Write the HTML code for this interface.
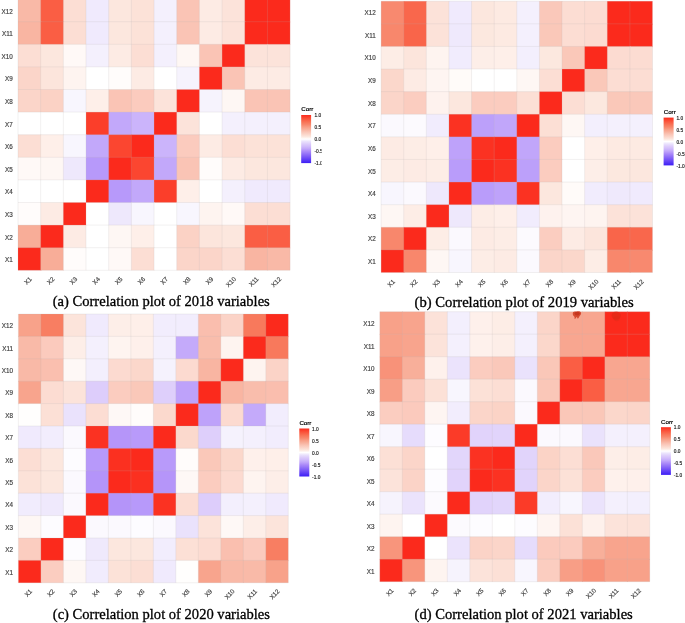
<!DOCTYPE html>
<html lang="en"><head><meta charset="utf-8"><title>Correlation plots</title>
<style>
html,body{margin:0;padding:0;background:#fff;}
body{width:685px;height:623px;overflow:hidden;}
svg{display:block;filter:blur(0.35px);}
.ax{font-family:"Liberation Sans",Arial,sans-serif;font-size:6.3px;fill:#3d3d3d;stroke:#3d3d3d;stroke-width:0.16px;}
.lt{font-family:"Liberation Sans",Arial,sans-serif;font-size:4.8px;fill:#222;stroke:#222;stroke-width:0.16px;}
.lh{font-family:"Liberation Sans",Arial,sans-serif;font-size:6.2px;fill:#000;stroke:#000;stroke-width:0.2px;}
.cap{font-family:"Liberation Serif","Times New Roman",serif;font-size:14.6px;fill:#000;stroke:#000;stroke-width:0.3px;}
</style></head><body>
<svg width="685" height="623" viewBox="0 0 685 623">
<defs>
<linearGradient id="lg" x1="0" y1="0" x2="0" y2="1">
<stop offset="0.000" stop-color="#fb2a1c"/><stop offset="0.050" stop-color="#fb4630"/><stop offset="0.100" stop-color="#fa5e44"/><stop offset="0.150" stop-color="#f87558"/><stop offset="0.200" stop-color="#f8876c"/><stop offset="0.250" stop-color="#f89e86"/><stop offset="0.300" stop-color="#f8b19d"/><stop offset="0.350" stop-color="#fac4b5"/><stop offset="0.400" stop-color="#fbd5c9"/><stop offset="0.450" stop-color="#fce7de"/><stop offset="0.500" stop-color="#ffffff"/><stop offset="0.550" stop-color="#eae2fc"/><stop offset="0.600" stop-color="#ddcdfb"/><stop offset="0.650" stop-color="#d1bcfb"/><stop offset="0.700" stop-color="#c2a8fa"/><stop offset="0.750" stop-color="#ae8df9"/><stop offset="0.800" stop-color="#9877f8"/><stop offset="0.875" stop-color="#7855f7"/><stop offset="0.950" stop-color="#5434f6"/><stop offset="1.000" stop-color="#3c1ef5"/></linearGradient>
<clipPath id="cl0"><rect x="0" y="0" width="321.6" height="623"/></clipPath>
<clipPath id="cl1"><rect x="0" y="0" width="685.0" height="623"/></clipPath>
<clipPath id="cl2"><rect x="0" y="0" width="685.0" height="623"/></clipPath>
<clipPath id="cl3"><rect x="0" y="0" width="685.0" height="623"/></clipPath>
</defs>
<rect width="685" height="623" fill="#fff"/>
<g>
<rect x="18.00" y="-0.90" width="23.38" height="23.30" fill="#f9b9a7"/><rect x="40.67" y="-0.90" width="23.38" height="23.30" fill="#fa5e44"/><rect x="63.35" y="-0.90" width="23.38" height="23.30" fill="#fcded4"/><rect x="86.03" y="-0.90" width="23.38" height="23.30" fill="#f0eafd"/><rect x="108.70" y="-0.90" width="23.38" height="23.30" fill="#fce7de"/><rect x="131.38" y="-0.90" width="23.38" height="23.30" fill="#fce2d8"/><rect x="154.05" y="-0.90" width="23.38" height="23.30" fill="#f4f0fd"/><rect x="176.72" y="-0.90" width="23.38" height="23.30" fill="#fac4b5"/><rect x="199.40" y="-0.90" width="23.38" height="23.30" fill="#fdebe4"/><rect x="222.08" y="-0.90" width="23.38" height="23.30" fill="#fce3da"/><rect x="244.75" y="-0.90" width="23.38" height="23.30" fill="#fb2a1c"/><rect x="267.43" y="-0.90" width="22.68" height="23.30" fill="#fb2a1c"/>
<rect x="18.00" y="21.70" width="23.38" height="23.30" fill="#f9b5a2"/><rect x="40.67" y="21.70" width="23.38" height="23.30" fill="#fa5e44"/><rect x="63.35" y="21.70" width="23.38" height="23.30" fill="#fcded4"/><rect x="86.03" y="21.70" width="23.38" height="23.30" fill="#f0eafd"/><rect x="108.70" y="21.70" width="23.38" height="23.30" fill="#fce7de"/><rect x="131.38" y="21.70" width="23.38" height="23.30" fill="#fce2d8"/><rect x="154.05" y="21.70" width="23.38" height="23.30" fill="#f4f0fd"/><rect x="176.72" y="21.70" width="23.38" height="23.30" fill="#fac4b5"/><rect x="199.40" y="21.70" width="23.38" height="23.30" fill="#fdebe4"/><rect x="222.08" y="21.70" width="23.38" height="23.30" fill="#fce3da"/><rect x="244.75" y="21.70" width="23.38" height="23.30" fill="#fb2a1c"/><rect x="267.43" y="21.70" width="22.68" height="23.30" fill="#fb2a1c"/>
<rect x="18.00" y="44.30" width="23.38" height="23.30" fill="#fcded4"/><rect x="40.67" y="44.30" width="23.38" height="23.30" fill="#fce7de"/><rect x="63.35" y="44.30" width="23.38" height="23.30" fill="#fff9f7"/><rect x="86.03" y="44.30" width="23.38" height="23.30" fill="#f4f0fd"/><rect x="108.70" y="44.30" width="23.38" height="23.30" fill="#fdebe4"/><rect x="131.38" y="44.30" width="23.38" height="23.30" fill="#fcded4"/><rect x="154.05" y="44.30" width="23.38" height="23.30" fill="#f4f0fd"/><rect x="176.72" y="44.30" width="23.38" height="23.30" fill="#fef7f4"/><rect x="199.40" y="44.30" width="23.38" height="23.30" fill="#fac4b5"/><rect x="222.08" y="44.30" width="23.38" height="23.30" fill="#fb2a1c"/><rect x="244.75" y="44.30" width="23.38" height="23.30" fill="#fce3da"/><rect x="267.43" y="44.30" width="22.68" height="23.30" fill="#fce3da"/>
<rect x="18.00" y="66.90" width="23.38" height="23.30" fill="#fbd5c9"/><rect x="40.67" y="66.90" width="23.38" height="23.30" fill="#fce5dc"/><rect x="63.35" y="66.90" width="23.38" height="23.30" fill="#fef4f0"/><rect x="86.03" y="66.90" width="23.38" height="23.30" fill="#ffffff"/><rect x="108.70" y="66.90" width="23.38" height="23.30" fill="#fffcfb"/><rect x="131.38" y="66.90" width="23.38" height="23.30" fill="#fdebe4"/><rect x="154.05" y="66.90" width="23.38" height="23.30" fill="#ffffff"/><rect x="176.72" y="66.90" width="23.38" height="23.30" fill="#f6f3fd"/><rect x="199.40" y="66.90" width="23.38" height="23.30" fill="#fb2a1c"/><rect x="222.08" y="66.90" width="23.38" height="23.30" fill="#fac4b5"/><rect x="244.75" y="66.90" width="23.38" height="23.30" fill="#fdebe4"/><rect x="267.43" y="66.90" width="22.68" height="23.30" fill="#fdebe4"/>
<rect x="18.00" y="89.50" width="23.38" height="23.30" fill="#fbd5c9"/><rect x="40.67" y="89.50" width="23.38" height="23.30" fill="#fbd2c5"/><rect x="63.35" y="89.50" width="23.38" height="23.30" fill="#f8f6fe"/><rect x="86.03" y="89.50" width="23.38" height="23.30" fill="#feefe9"/><rect x="108.70" y="89.50" width="23.38" height="23.30" fill="#fac4b5"/><rect x="131.38" y="89.50" width="23.38" height="23.30" fill="#fbcbbe"/><rect x="154.05" y="89.50" width="23.38" height="23.30" fill="#fce3da"/><rect x="176.72" y="89.50" width="23.38" height="23.30" fill="#fb2a1c"/><rect x="199.40" y="89.50" width="23.38" height="23.30" fill="#f6f3fd"/><rect x="222.08" y="89.50" width="23.38" height="23.30" fill="#fef7f4"/><rect x="244.75" y="89.50" width="23.38" height="23.30" fill="#fac4b5"/><rect x="267.43" y="89.50" width="22.68" height="23.30" fill="#fac4b5"/>
<rect x="18.00" y="112.10" width="23.38" height="23.30" fill="#ffffff"/><rect x="40.67" y="112.10" width="23.38" height="23.30" fill="#ffffff"/><rect x="63.35" y="112.10" width="23.38" height="23.30" fill="#ffffff"/><rect x="86.03" y="112.10" width="23.38" height="23.30" fill="#fb3e2a"/><rect x="108.70" y="112.10" width="23.38" height="23.30" fill="#c2a8fa"/><rect x="131.38" y="112.10" width="23.38" height="23.30" fill="#cbb4fb"/><rect x="154.05" y="112.10" width="23.38" height="23.30" fill="#fb2a1c"/><rect x="176.72" y="112.10" width="23.38" height="23.30" fill="#fce3da"/><rect x="199.40" y="112.10" width="23.38" height="23.30" fill="#ffffff"/><rect x="222.08" y="112.10" width="23.38" height="23.30" fill="#f4f0fd"/><rect x="244.75" y="112.10" width="23.38" height="23.30" fill="#f4f0fd"/><rect x="267.43" y="112.10" width="22.68" height="23.30" fill="#f4f0fd"/>
<rect x="18.00" y="134.70" width="23.38" height="23.30" fill="#fcded4"/><rect x="40.67" y="134.70" width="23.38" height="23.30" fill="#feefe9"/><rect x="63.35" y="134.70" width="23.38" height="23.30" fill="#f8f6fe"/><rect x="86.03" y="134.70" width="23.38" height="23.30" fill="#c2a8fa"/><rect x="108.70" y="134.70" width="23.38" height="23.30" fill="#fb4630"/><rect x="131.38" y="134.70" width="23.38" height="23.30" fill="#fb2a1c"/><rect x="154.05" y="134.70" width="23.38" height="23.30" fill="#cbb4fb"/><rect x="176.72" y="134.70" width="23.38" height="23.30" fill="#fbcbbe"/><rect x="199.40" y="134.70" width="23.38" height="23.30" fill="#fdebe4"/><rect x="222.08" y="134.70" width="23.38" height="23.30" fill="#fcded4"/><rect x="244.75" y="134.70" width="23.38" height="23.30" fill="#fce2d8"/><rect x="267.43" y="134.70" width="22.68" height="23.30" fill="#fce2d8"/>
<rect x="18.00" y="157.30" width="23.38" height="23.30" fill="#fff9f7"/><rect x="40.67" y="157.30" width="23.38" height="23.30" fill="#fef7f4"/><rect x="63.35" y="157.30" width="23.38" height="23.30" fill="#eee8fc"/><rect x="86.03" y="157.30" width="23.38" height="23.30" fill="#b799fa"/><rect x="108.70" y="157.30" width="23.38" height="23.30" fill="#fb2a1c"/><rect x="131.38" y="157.30" width="23.38" height="23.30" fill="#fb4630"/><rect x="154.05" y="157.30" width="23.38" height="23.30" fill="#c2a8fa"/><rect x="176.72" y="157.30" width="23.38" height="23.30" fill="#fac4b5"/><rect x="199.40" y="157.30" width="23.38" height="23.30" fill="#fffcfb"/><rect x="222.08" y="157.30" width="23.38" height="23.30" fill="#fdebe4"/><rect x="244.75" y="157.30" width="23.38" height="23.30" fill="#fce7de"/><rect x="267.43" y="157.30" width="22.68" height="23.30" fill="#fce7de"/>
<rect x="18.00" y="179.90" width="23.38" height="23.30" fill="#ffffff"/><rect x="40.67" y="179.90" width="23.38" height="23.30" fill="#ffffff"/><rect x="63.35" y="179.90" width="23.38" height="23.30" fill="#ffffff"/><rect x="86.03" y="179.90" width="23.38" height="23.30" fill="#fb2a1c"/><rect x="108.70" y="179.90" width="23.38" height="23.30" fill="#b799fa"/><rect x="131.38" y="179.90" width="23.38" height="23.30" fill="#c2a8fa"/><rect x="154.05" y="179.90" width="23.38" height="23.30" fill="#fb3e2a"/><rect x="176.72" y="179.90" width="23.38" height="23.30" fill="#feefe9"/><rect x="199.40" y="179.90" width="23.38" height="23.30" fill="#ffffff"/><rect x="222.08" y="179.90" width="23.38" height="23.30" fill="#f4f0fd"/><rect x="244.75" y="179.90" width="23.38" height="23.30" fill="#f0eafd"/><rect x="267.43" y="179.90" width="22.68" height="23.30" fill="#f0eafd"/>
<rect x="18.00" y="202.50" width="23.38" height="23.30" fill="#fffcfb"/><rect x="40.67" y="202.50" width="23.38" height="23.30" fill="#fdebe4"/><rect x="63.35" y="202.50" width="23.38" height="23.30" fill="#fb2a1c"/><rect x="86.03" y="202.50" width="23.38" height="23.30" fill="#ffffff"/><rect x="108.70" y="202.50" width="23.38" height="23.30" fill="#eee8fc"/><rect x="131.38" y="202.50" width="23.38" height="23.30" fill="#f8f6fe"/><rect x="154.05" y="202.50" width="23.38" height="23.30" fill="#ffffff"/><rect x="176.72" y="202.50" width="23.38" height="23.30" fill="#f8f6fe"/><rect x="199.40" y="202.50" width="23.38" height="23.30" fill="#fef4f0"/><rect x="222.08" y="202.50" width="23.38" height="23.30" fill="#fff9f7"/><rect x="244.75" y="202.50" width="23.38" height="23.30" fill="#fcded4"/><rect x="267.43" y="202.50" width="22.68" height="23.30" fill="#fcded4"/>
<rect x="18.00" y="225.10" width="23.38" height="23.30" fill="#f8ad98"/><rect x="40.67" y="225.10" width="23.38" height="23.30" fill="#fb2a1c"/><rect x="63.35" y="225.10" width="23.38" height="23.30" fill="#fdebe4"/><rect x="86.03" y="225.10" width="23.38" height="23.30" fill="#ffffff"/><rect x="108.70" y="225.10" width="23.38" height="23.30" fill="#fef7f4"/><rect x="131.38" y="225.10" width="23.38" height="23.30" fill="#feefe9"/><rect x="154.05" y="225.10" width="23.38" height="23.30" fill="#ffffff"/><rect x="176.72" y="225.10" width="23.38" height="23.30" fill="#fbd2c5"/><rect x="199.40" y="225.10" width="23.38" height="23.30" fill="#fce5dc"/><rect x="222.08" y="225.10" width="23.38" height="23.30" fill="#fce7de"/><rect x="244.75" y="225.10" width="23.38" height="23.30" fill="#fa5e44"/><rect x="267.43" y="225.10" width="22.68" height="23.30" fill="#fa5e44"/>
<rect x="18.00" y="247.70" width="23.38" height="22.60" fill="#fb2a1c"/><rect x="40.67" y="247.70" width="23.38" height="22.60" fill="#f8ad98"/><rect x="63.35" y="247.70" width="23.38" height="22.60" fill="#fffcfb"/><rect x="86.03" y="247.70" width="23.38" height="22.60" fill="#ffffff"/><rect x="108.70" y="247.70" width="23.38" height="22.60" fill="#fff9f7"/><rect x="131.38" y="247.70" width="23.38" height="22.60" fill="#fcded4"/><rect x="154.05" y="247.70" width="23.38" height="22.60" fill="#ffffff"/><rect x="176.72" y="247.70" width="23.38" height="22.60" fill="#fbd5c9"/><rect x="199.40" y="247.70" width="23.38" height="22.60" fill="#fbd5c9"/><rect x="222.08" y="247.70" width="23.38" height="22.60" fill="#fcded4"/><rect x="244.75" y="247.70" width="23.38" height="22.60" fill="#f9b5a2"/><rect x="267.43" y="247.70" width="22.68" height="22.60" fill="#f9b9a7"/>
<path d="M18.00 -0.90V270.30M18.00 -0.90H290.10M40.67 -0.90V270.30M18.00 21.70H290.10M63.35 -0.90V270.30M18.00 44.30H290.10M86.03 -0.90V270.30M18.00 66.90H290.10M108.70 -0.90V270.30M18.00 89.50H290.10M131.38 -0.90V270.30M18.00 112.10H290.10M154.05 -0.90V270.30M18.00 134.70H290.10M176.72 -0.90V270.30M18.00 157.30H290.10M199.40 -0.90V270.30M18.00 179.90H290.10M222.08 -0.90V270.30M18.00 202.50H290.10M244.75 -0.90V270.30M18.00 225.10H290.10M267.43 -0.90V270.30M18.00 247.70H290.10M290.10 -0.90V270.30M18.00 270.30H290.10" stroke="#b8b2b2" stroke-opacity="0.24" stroke-width="0.8" fill="none"/>
<text class="ax" x="12.8" y="13.5" text-anchor="end">X12</text><text class="ax" x="12.8" y="36.1" text-anchor="end">X11</text><text class="ax" x="12.8" y="58.7" text-anchor="end">X10</text><text class="ax" x="12.8" y="81.3" text-anchor="end">X9</text><text class="ax" x="12.8" y="103.9" text-anchor="end">X8</text><text class="ax" x="12.8" y="126.5" text-anchor="end">X7</text><text class="ax" x="12.8" y="149.1" text-anchor="end">X6</text><text class="ax" x="12.8" y="171.7" text-anchor="end">X5</text><text class="ax" x="12.8" y="194.3" text-anchor="end">X4</text><text class="ax" x="12.8" y="216.9" text-anchor="end">X3</text><text class="ax" x="12.8" y="239.5" text-anchor="end">X2</text><text class="ax" x="12.8" y="262.1" text-anchor="end">X1</text>
<text class="ax" text-anchor="end" transform="translate(29.1 276.3) rotate(-45)" x="0" y="4.5">X1</text><text class="ax" text-anchor="end" transform="translate(51.8 276.3) rotate(-45)" x="0" y="4.5">X2</text><text class="ax" text-anchor="end" transform="translate(74.5 276.3) rotate(-45)" x="0" y="4.5">X3</text><text class="ax" text-anchor="end" transform="translate(97.2 276.3) rotate(-45)" x="0" y="4.5">X4</text><text class="ax" text-anchor="end" transform="translate(119.8 276.3) rotate(-45)" x="0" y="4.5">X5</text><text class="ax" text-anchor="end" transform="translate(142.5 276.3) rotate(-45)" x="0" y="4.5">X6</text><text class="ax" text-anchor="end" transform="translate(165.2 276.3) rotate(-45)" x="0" y="4.5">X7</text><text class="ax" text-anchor="end" transform="translate(187.9 276.3) rotate(-45)" x="0" y="4.5">X8</text><text class="ax" text-anchor="end" transform="translate(210.5 276.3) rotate(-45)" x="0" y="4.5">X9</text><text class="ax" text-anchor="end" transform="translate(233.2 276.3) rotate(-45)" x="0" y="4.5">X10</text><text class="ax" text-anchor="end" transform="translate(255.9 276.3) rotate(-45)" x="0" y="4.5">X11</text><text class="ax" text-anchor="end" transform="translate(278.6 276.3) rotate(-45)" x="0" y="4.5">X12</text>
<g clip-path="url(#cl0)"><rect x="301.2" y="115.0" width="9.9" height="48.1" fill="url(#lg)"/><text class="lh" x="301.3" y="111.4">Corr</text><text class="lt" x="314.5" y="117.2">1.0</text><text class="lt" x="314.5" y="129.2">0.5</text><text class="lt" x="314.5" y="141.2">0.0</text><text class="lt" x="314.5" y="153.3">-0.5</text><text class="lt" x="314.5" y="165.3">-1.0</text></g>
<text class="cap" x="52.7" y="306.3" textLength="217.1" lengthAdjust="spacingAndGlyphs">(a) Correlation plot of 2018 variables</text>
</g>
<g>
<rect x="381.10" y="1.20" width="23.32" height="23.31" fill="#f8896f"/><rect x="403.72" y="1.20" width="23.32" height="23.31" fill="#f9674c"/><rect x="426.33" y="1.20" width="23.32" height="23.31" fill="#fce2d9"/><rect x="448.95" y="1.20" width="23.32" height="23.31" fill="#f0eafd"/><rect x="471.57" y="1.20" width="23.32" height="23.31" fill="#fce7de"/><rect x="494.18" y="1.20" width="23.32" height="23.31" fill="#fdeae2"/><rect x="516.80" y="1.20" width="23.32" height="23.31" fill="#f4f0fd"/><rect x="539.42" y="1.20" width="23.32" height="23.31" fill="#fac8ba"/><rect x="562.03" y="1.20" width="23.32" height="23.31" fill="#fcddd3"/><rect x="584.65" y="1.20" width="23.32" height="23.31" fill="#fcdcd2"/><rect x="607.27" y="1.20" width="23.32" height="23.31" fill="#fb2a1c"/><rect x="629.88" y="1.20" width="22.62" height="23.31" fill="#fb2a1c"/>
<rect x="381.10" y="23.81" width="23.32" height="23.31" fill="#f8876c"/><rect x="403.72" y="23.81" width="23.32" height="23.31" fill="#f9654a"/><rect x="426.33" y="23.81" width="23.32" height="23.31" fill="#fce2d9"/><rect x="448.95" y="23.81" width="23.32" height="23.31" fill="#efe9fc"/><rect x="471.57" y="23.81" width="23.32" height="23.31" fill="#fce8df"/><rect x="494.18" y="23.81" width="23.32" height="23.31" fill="#fdeae2"/><rect x="516.80" y="23.81" width="23.32" height="23.31" fill="#f4f0fd"/><rect x="539.42" y="23.81" width="23.32" height="23.31" fill="#fac8b9"/><rect x="562.03" y="23.81" width="23.32" height="23.31" fill="#fcddd3"/><rect x="584.65" y="23.81" width="23.32" height="23.31" fill="#fcdbd1"/><rect x="607.27" y="23.81" width="23.32" height="23.31" fill="#fb2a1c"/><rect x="629.88" y="23.81" width="22.62" height="23.31" fill="#fb2a1c"/>
<rect x="381.10" y="46.42" width="23.32" height="23.31" fill="#fdede6"/><rect x="403.72" y="46.42" width="23.32" height="23.31" fill="#fce5dc"/><rect x="426.33" y="46.42" width="23.32" height="23.31" fill="#fef4f0"/><rect x="448.95" y="46.42" width="23.32" height="23.31" fill="#f1ecfd"/><rect x="471.57" y="46.42" width="23.32" height="23.31" fill="#fdeee8"/><rect x="494.18" y="46.42" width="23.32" height="23.31" fill="#feefe9"/><rect x="516.80" y="46.42" width="23.32" height="23.31" fill="#f3effd"/><rect x="539.42" y="46.42" width="23.32" height="23.31" fill="#fce8df"/><rect x="562.03" y="46.42" width="23.32" height="23.31" fill="#fac8b9"/><rect x="584.65" y="46.42" width="23.32" height="23.31" fill="#fb2a1c"/><rect x="607.27" y="46.42" width="23.32" height="23.31" fill="#fcdbd1"/><rect x="629.88" y="46.42" width="22.62" height="23.31" fill="#fcdcd2"/>
<rect x="381.10" y="69.03" width="23.32" height="23.31" fill="#fbd7cb"/><rect x="403.72" y="69.03" width="23.32" height="23.31" fill="#fdebe4"/><rect x="426.33" y="69.03" width="23.32" height="23.31" fill="#fef5f2"/><rect x="448.95" y="69.03" width="23.32" height="23.31" fill="#fffbf9"/><rect x="471.57" y="69.03" width="23.32" height="23.31" fill="#ffffff"/><rect x="494.18" y="69.03" width="23.32" height="23.31" fill="#ffffff"/><rect x="516.80" y="69.03" width="23.32" height="23.31" fill="#fef7f4"/><rect x="539.42" y="69.03" width="23.32" height="23.31" fill="#fcded4"/><rect x="562.03" y="69.03" width="23.32" height="23.31" fill="#fb2a1c"/><rect x="584.65" y="69.03" width="23.32" height="23.31" fill="#fac8b9"/><rect x="607.27" y="69.03" width="23.32" height="23.31" fill="#fcddd3"/><rect x="629.88" y="69.03" width="22.62" height="23.31" fill="#fcddd3"/>
<rect x="381.10" y="91.63" width="23.32" height="23.31" fill="#fbd5c9"/><rect x="403.72" y="91.63" width="23.32" height="23.31" fill="#fbcdc0"/><rect x="426.33" y="91.63" width="23.32" height="23.31" fill="#fef2ee"/><rect x="448.95" y="91.63" width="23.32" height="23.31" fill="#fce7de"/><rect x="471.57" y="91.63" width="23.32" height="23.31" fill="#fbccbf"/><rect x="494.18" y="91.63" width="23.32" height="23.31" fill="#fbccbf"/><rect x="516.80" y="91.63" width="23.32" height="23.31" fill="#fcdfd5"/><rect x="539.42" y="91.63" width="23.32" height="23.31" fill="#fb2a1c"/><rect x="562.03" y="91.63" width="23.32" height="23.31" fill="#fcded4"/><rect x="584.65" y="91.63" width="23.32" height="23.31" fill="#fce8df"/><rect x="607.27" y="91.63" width="23.32" height="23.31" fill="#fac8b9"/><rect x="629.88" y="91.63" width="22.62" height="23.31" fill="#fac8ba"/>
<rect x="381.10" y="114.24" width="23.32" height="23.31" fill="#fbf9fe"/><rect x="403.72" y="114.24" width="23.32" height="23.31" fill="#fcfafe"/><rect x="426.33" y="114.24" width="23.32" height="23.31" fill="#f1ecfd"/><rect x="448.95" y="114.24" width="23.32" height="23.31" fill="#fb3222"/><rect x="471.57" y="114.24" width="23.32" height="23.31" fill="#bca0fa"/><rect x="494.18" y="114.24" width="23.32" height="23.31" fill="#c1a6fa"/><rect x="516.80" y="114.24" width="23.32" height="23.31" fill="#fb2a1c"/><rect x="539.42" y="114.24" width="23.32" height="23.31" fill="#fcdfd5"/><rect x="562.03" y="114.24" width="23.32" height="23.31" fill="#fef7f4"/><rect x="584.65" y="114.24" width="23.32" height="23.31" fill="#f3effd"/><rect x="607.27" y="114.24" width="23.32" height="23.31" fill="#f4f0fd"/><rect x="629.88" y="114.24" width="22.62" height="23.31" fill="#f4f0fd"/>
<rect x="381.10" y="136.85" width="23.32" height="23.31" fill="#fdebe4"/><rect x="403.72" y="136.85" width="23.32" height="23.31" fill="#fdede6"/><rect x="426.33" y="136.85" width="23.32" height="23.31" fill="#feefe9"/><rect x="448.95" y="136.85" width="23.32" height="23.31" fill="#bea2fa"/><rect x="471.57" y="136.85" width="23.32" height="23.31" fill="#fb3222"/><rect x="494.18" y="136.85" width="23.32" height="23.31" fill="#fb2a1c"/><rect x="516.80" y="136.85" width="23.32" height="23.31" fill="#c1a6fa"/><rect x="539.42" y="136.85" width="23.32" height="23.31" fill="#fbccbf"/><rect x="562.03" y="136.85" width="23.32" height="23.31" fill="#ffffff"/><rect x="584.65" y="136.85" width="23.32" height="23.31" fill="#feefe9"/><rect x="607.27" y="136.85" width="23.32" height="23.31" fill="#fdeae2"/><rect x="629.88" y="136.85" width="22.62" height="23.31" fill="#fdeae2"/>
<rect x="381.10" y="159.46" width="23.32" height="23.31" fill="#fdede6"/><rect x="403.72" y="159.46" width="23.32" height="23.31" fill="#fdebe4"/><rect x="426.33" y="159.46" width="23.32" height="23.31" fill="#fdede6"/><rect x="448.95" y="159.46" width="23.32" height="23.31" fill="#b99cfa"/><rect x="471.57" y="159.46" width="23.32" height="23.31" fill="#fb2a1c"/><rect x="494.18" y="159.46" width="23.32" height="23.31" fill="#fb3222"/><rect x="516.80" y="159.46" width="23.32" height="23.31" fill="#bca0fa"/><rect x="539.42" y="159.46" width="23.32" height="23.31" fill="#fbccbf"/><rect x="562.03" y="159.46" width="23.32" height="23.31" fill="#ffffff"/><rect x="584.65" y="159.46" width="23.32" height="23.31" fill="#fdeee8"/><rect x="607.27" y="159.46" width="23.32" height="23.31" fill="#fce8df"/><rect x="629.88" y="159.46" width="22.62" height="23.31" fill="#fce7de"/>
<rect x="381.10" y="182.07" width="23.32" height="23.31" fill="#f8f6fe"/><rect x="403.72" y="182.07" width="23.32" height="23.31" fill="#fbf9fe"/><rect x="426.33" y="182.07" width="23.32" height="23.31" fill="#eee8fc"/><rect x="448.95" y="182.07" width="23.32" height="23.31" fill="#fb2a1c"/><rect x="471.57" y="182.07" width="23.32" height="23.31" fill="#b99cfa"/><rect x="494.18" y="182.07" width="23.32" height="23.31" fill="#bea2fa"/><rect x="516.80" y="182.07" width="23.32" height="23.31" fill="#fb3222"/><rect x="539.42" y="182.07" width="23.32" height="23.31" fill="#fce7de"/><rect x="562.03" y="182.07" width="23.32" height="23.31" fill="#fffbf9"/><rect x="584.65" y="182.07" width="23.32" height="23.31" fill="#f1ecfd"/><rect x="607.27" y="182.07" width="23.32" height="23.31" fill="#efe9fc"/><rect x="629.88" y="182.07" width="22.62" height="23.31" fill="#f0eafd"/>
<rect x="381.10" y="204.68" width="23.32" height="23.31" fill="#fef7f4"/><rect x="403.72" y="204.68" width="23.32" height="23.31" fill="#fdede6"/><rect x="426.33" y="204.68" width="23.32" height="23.31" fill="#fb2a1c"/><rect x="448.95" y="204.68" width="23.32" height="23.31" fill="#eee8fc"/><rect x="471.57" y="204.68" width="23.32" height="23.31" fill="#fdede6"/><rect x="494.18" y="204.68" width="23.32" height="23.31" fill="#feefe9"/><rect x="516.80" y="204.68" width="23.32" height="23.31" fill="#f1ecfd"/><rect x="539.42" y="204.68" width="23.32" height="23.31" fill="#fef2ee"/><rect x="562.03" y="204.68" width="23.32" height="23.31" fill="#fef5f2"/><rect x="584.65" y="204.68" width="23.32" height="23.31" fill="#fef4f0"/><rect x="607.27" y="204.68" width="23.32" height="23.31" fill="#fce2d9"/><rect x="629.88" y="204.68" width="22.62" height="23.31" fill="#fce2d9"/>
<rect x="381.10" y="227.28" width="23.32" height="23.31" fill="#f8876c"/><rect x="403.72" y="227.28" width="23.32" height="23.31" fill="#fb2a1c"/><rect x="426.33" y="227.28" width="23.32" height="23.31" fill="#fdede6"/><rect x="448.95" y="227.28" width="23.32" height="23.31" fill="#fbf9fe"/><rect x="471.57" y="227.28" width="23.32" height="23.31" fill="#fdebe4"/><rect x="494.18" y="227.28" width="23.32" height="23.31" fill="#fdede6"/><rect x="516.80" y="227.28" width="23.32" height="23.31" fill="#fcfafe"/><rect x="539.42" y="227.28" width="23.32" height="23.31" fill="#fbcdc0"/><rect x="562.03" y="227.28" width="23.32" height="23.31" fill="#fdebe4"/><rect x="584.65" y="227.28" width="23.32" height="23.31" fill="#fce5dc"/><rect x="607.27" y="227.28" width="23.32" height="23.31" fill="#f9654a"/><rect x="629.88" y="227.28" width="22.62" height="23.31" fill="#f9674c"/>
<rect x="381.10" y="249.89" width="23.32" height="22.61" fill="#fb2a1c"/><rect x="403.72" y="249.89" width="23.32" height="22.61" fill="#f8876c"/><rect x="426.33" y="249.89" width="23.32" height="22.61" fill="#fef7f4"/><rect x="448.95" y="249.89" width="23.32" height="22.61" fill="#f8f6fe"/><rect x="471.57" y="249.89" width="23.32" height="22.61" fill="#fdede6"/><rect x="494.18" y="249.89" width="23.32" height="22.61" fill="#fdebe4"/><rect x="516.80" y="249.89" width="23.32" height="22.61" fill="#fbf9fe"/><rect x="539.42" y="249.89" width="23.32" height="22.61" fill="#fbd5c9"/><rect x="562.03" y="249.89" width="23.32" height="22.61" fill="#fbd7cb"/><rect x="584.65" y="249.89" width="23.32" height="22.61" fill="#fdede6"/><rect x="607.27" y="249.89" width="23.32" height="22.61" fill="#f8876c"/><rect x="629.88" y="249.89" width="22.62" height="22.61" fill="#f8896f"/>
<path d="M381.10 1.20V272.50M381.10 1.20H652.50M403.72 1.20V272.50M381.10 23.81H652.50M426.33 1.20V272.50M381.10 46.42H652.50M448.95 1.20V272.50M381.10 69.03H652.50M471.57 1.20V272.50M381.10 91.63H652.50M494.18 1.20V272.50M381.10 114.24H652.50M516.80 1.20V272.50M381.10 136.85H652.50M539.42 1.20V272.50M381.10 159.46H652.50M562.03 1.20V272.50M381.10 182.07H652.50M584.65 1.20V272.50M381.10 204.68H652.50M607.27 1.20V272.50M381.10 227.28H652.50M629.88 1.20V272.50M381.10 249.89H652.50M652.50 1.20V272.50M381.10 272.50H652.50" stroke="#b8b2b2" stroke-opacity="0.24" stroke-width="0.8" fill="none"/>
<text class="ax" x="375.8" y="15.2" text-anchor="end">X12</text><text class="ax" x="375.8" y="37.8" text-anchor="end">X11</text><text class="ax" x="375.8" y="60.4" text-anchor="end">X10</text><text class="ax" x="375.8" y="83.0" text-anchor="end">X9</text><text class="ax" x="375.8" y="105.6" text-anchor="end">X8</text><text class="ax" x="375.8" y="128.2" text-anchor="end">X7</text><text class="ax" x="375.8" y="150.9" text-anchor="end">X6</text><text class="ax" x="375.8" y="173.5" text-anchor="end">X5</text><text class="ax" x="375.8" y="196.1" text-anchor="end">X4</text><text class="ax" x="375.8" y="218.7" text-anchor="end">X3</text><text class="ax" x="375.8" y="241.3" text-anchor="end">X2</text><text class="ax" x="375.8" y="263.9" text-anchor="end">X1</text>
<text class="ax" text-anchor="end" transform="translate(392.2 278.8) rotate(-45)" x="0" y="4.5">X1</text><text class="ax" text-anchor="end" transform="translate(414.8 278.8) rotate(-45)" x="0" y="4.5">X2</text><text class="ax" text-anchor="end" transform="translate(437.4 278.8) rotate(-45)" x="0" y="4.5">X3</text><text class="ax" text-anchor="end" transform="translate(460.1 278.8) rotate(-45)" x="0" y="4.5">X4</text><text class="ax" text-anchor="end" transform="translate(482.7 278.8) rotate(-45)" x="0" y="4.5">X5</text><text class="ax" text-anchor="end" transform="translate(505.3 278.8) rotate(-45)" x="0" y="4.5">X6</text><text class="ax" text-anchor="end" transform="translate(527.9 278.8) rotate(-45)" x="0" y="4.5">X7</text><text class="ax" text-anchor="end" transform="translate(550.5 278.8) rotate(-45)" x="0" y="4.5">X8</text><text class="ax" text-anchor="end" transform="translate(573.1 278.8) rotate(-45)" x="0" y="4.5">X9</text><text class="ax" text-anchor="end" transform="translate(595.8 278.8) rotate(-45)" x="0" y="4.5">X10</text><text class="ax" text-anchor="end" transform="translate(618.4 278.8) rotate(-45)" x="0" y="4.5">X11</text><text class="ax" text-anchor="end" transform="translate(641.0 278.8) rotate(-45)" x="0" y="4.5">X12</text>
<g clip-path="url(#cl1)"><rect x="663.6" y="117.6" width="10.0" height="47.8" fill="url(#lg)"/><text class="lh" x="663.7" y="114.2">Corr</text><text class="lt" x="676.4" y="119.8">1.0</text><text class="lt" x="676.4" y="131.8">0.5</text><text class="lt" x="676.4" y="143.7">0.0</text><text class="lt" x="676.4" y="155.6">-0.5</text><text class="lt" x="676.4" y="167.6">-1.0</text></g>
<text class="cap" x="414.6" y="306.5" textLength="219.0" lengthAdjust="spacingAndGlyphs">(b) Correlation plot of 2019 variables</text>
</g>
<g>
<rect x="18.40" y="314.00" width="23.19" height="23.10" fill="#f8a28a"/><rect x="40.89" y="314.00" width="23.19" height="23.10" fill="#f87e62"/><rect x="63.38" y="314.00" width="23.19" height="23.10" fill="#fce4db"/><rect x="85.88" y="314.00" width="23.19" height="23.10" fill="#f0eafd"/><rect x="108.37" y="314.00" width="23.19" height="23.10" fill="#fdeee8"/><rect x="130.86" y="314.00" width="23.19" height="23.10" fill="#feefe9"/><rect x="153.35" y="314.00" width="23.19" height="23.10" fill="#f2edfd"/><rect x="175.84" y="314.00" width="23.19" height="23.10" fill="#f2edfd"/><rect x="198.33" y="314.00" width="23.19" height="23.10" fill="#fabeae"/><rect x="220.83" y="314.00" width="23.19" height="23.10" fill="#fbd3c7"/><rect x="243.32" y="314.00" width="23.19" height="23.10" fill="#f8795c"/><rect x="265.81" y="314.00" width="22.49" height="23.10" fill="#fb2a1c"/>
<rect x="18.40" y="336.40" width="23.19" height="23.10" fill="#f9baa8"/><rect x="40.89" y="336.40" width="23.19" height="23.10" fill="#fbcabd"/><rect x="63.38" y="336.40" width="23.19" height="23.10" fill="#fdeee8"/><rect x="85.88" y="336.40" width="23.19" height="23.10" fill="#f4f0fd"/><rect x="108.37" y="336.40" width="23.19" height="23.10" fill="#fef4f0"/><rect x="130.86" y="336.40" width="23.19" height="23.10" fill="#fef0eb"/><rect x="153.35" y="336.40" width="23.19" height="23.10" fill="#f4f0fd"/><rect x="175.84" y="336.40" width="23.19" height="23.10" fill="#c4aafa"/><rect x="198.33" y="336.40" width="23.19" height="23.10" fill="#f9bdac"/><rect x="220.83" y="336.40" width="23.19" height="23.10" fill="#fef4f0"/><rect x="243.32" y="336.40" width="23.19" height="23.10" fill="#fb2a1c"/><rect x="265.81" y="336.40" width="22.49" height="23.10" fill="#f8795c"/>
<rect x="18.40" y="358.80" width="23.19" height="23.10" fill="#f9b9a7"/><rect x="40.89" y="358.80" width="23.19" height="23.10" fill="#fabfaf"/><rect x="63.38" y="358.80" width="23.19" height="23.10" fill="#fef8f6"/><rect x="85.88" y="358.80" width="23.19" height="23.10" fill="#f3effd"/><rect x="108.37" y="358.80" width="23.19" height="23.10" fill="#fcdad0"/><rect x="130.86" y="358.80" width="23.19" height="23.10" fill="#fbd7cb"/><rect x="153.35" y="358.80" width="23.19" height="23.10" fill="#f5f2fd"/><rect x="175.84" y="358.80" width="23.19" height="23.10" fill="#fcdad0"/><rect x="198.33" y="358.80" width="23.19" height="23.10" fill="#f9b5a2"/><rect x="220.83" y="358.80" width="23.19" height="23.10" fill="#fb2a1c"/><rect x="243.32" y="358.80" width="23.19" height="23.10" fill="#fef4f0"/><rect x="265.81" y="358.80" width="22.49" height="23.10" fill="#fbd3c7"/>
<rect x="18.40" y="381.20" width="23.19" height="23.10" fill="#f8a48d"/><rect x="40.89" y="381.20" width="23.19" height="23.10" fill="#fcdcd2"/><rect x="63.38" y="381.20" width="23.19" height="23.10" fill="#fce3da"/><rect x="85.88" y="381.20" width="23.19" height="23.10" fill="#ddcdfb"/><rect x="108.37" y="381.20" width="23.19" height="23.10" fill="#fbccbf"/><rect x="130.86" y="381.20" width="23.19" height="23.10" fill="#fac8b9"/><rect x="153.35" y="381.20" width="23.19" height="23.10" fill="#decffb"/><rect x="175.84" y="381.20" width="23.19" height="23.10" fill="#bea2fa"/><rect x="198.33" y="381.20" width="23.19" height="23.10" fill="#fb2a1c"/><rect x="220.83" y="381.20" width="23.19" height="23.10" fill="#f9b5a2"/><rect x="243.32" y="381.20" width="23.19" height="23.10" fill="#f9bdac"/><rect x="265.81" y="381.20" width="22.49" height="23.10" fill="#fabeae"/>
<rect x="18.40" y="403.60" width="23.19" height="23.10" fill="#fffefd"/><rect x="40.89" y="403.60" width="23.19" height="23.10" fill="#fce0d6"/><rect x="63.38" y="403.60" width="23.19" height="23.10" fill="#eae2fc"/><rect x="85.88" y="403.60" width="23.19" height="23.10" fill="#fcddd3"/><rect x="108.37" y="403.60" width="23.19" height="23.10" fill="#fef8f6"/><rect x="130.86" y="403.60" width="23.19" height="23.10" fill="#fffcfb"/><rect x="153.35" y="403.60" width="23.19" height="23.10" fill="#fbd9cd"/><rect x="175.84" y="403.60" width="23.19" height="23.10" fill="#fb2a1c"/><rect x="198.33" y="403.60" width="23.19" height="23.10" fill="#bea2fa"/><rect x="220.83" y="403.60" width="23.19" height="23.10" fill="#fcdad0"/><rect x="243.32" y="403.60" width="23.19" height="23.10" fill="#c4aafa"/><rect x="265.81" y="403.60" width="22.49" height="23.10" fill="#f2edfd"/>
<rect x="18.40" y="426.00" width="23.19" height="23.10" fill="#f0eafd"/><rect x="40.89" y="426.00" width="23.19" height="23.10" fill="#f2edfd"/><rect x="63.38" y="426.00" width="23.19" height="23.10" fill="#fbf9fe"/><rect x="85.88" y="426.00" width="23.19" height="23.10" fill="#fb3222"/><rect x="108.37" y="426.00" width="23.19" height="23.10" fill="#b595f9"/><rect x="130.86" y="426.00" width="23.19" height="23.10" fill="#b89afa"/><rect x="153.35" y="426.00" width="23.19" height="23.10" fill="#fb2a1c"/><rect x="175.84" y="426.00" width="23.19" height="23.10" fill="#fbd9cd"/><rect x="198.33" y="426.00" width="23.19" height="23.10" fill="#decffb"/><rect x="220.83" y="426.00" width="23.19" height="23.10" fill="#f5f2fd"/><rect x="243.32" y="426.00" width="23.19" height="23.10" fill="#f4f0fd"/><rect x="265.81" y="426.00" width="22.49" height="23.10" fill="#f2edfd"/>
<rect x="18.40" y="448.40" width="23.19" height="23.10" fill="#fcded4"/><rect x="40.89" y="448.40" width="23.19" height="23.10" fill="#fce7de"/><rect x="63.38" y="448.40" width="23.19" height="23.10" fill="#fdfcff"/><rect x="85.88" y="448.40" width="23.19" height="23.10" fill="#b799fa"/><rect x="108.37" y="448.40" width="23.19" height="23.10" fill="#fb3020"/><rect x="130.86" y="448.40" width="23.19" height="23.10" fill="#fb2a1c"/><rect x="153.35" y="448.40" width="23.19" height="23.10" fill="#b89afa"/><rect x="175.84" y="448.40" width="23.19" height="23.10" fill="#fffcfb"/><rect x="198.33" y="448.40" width="23.19" height="23.10" fill="#fac8b9"/><rect x="220.83" y="448.40" width="23.19" height="23.10" fill="#fbd7cb"/><rect x="243.32" y="448.40" width="23.19" height="23.10" fill="#fef0eb"/><rect x="265.81" y="448.40" width="22.49" height="23.10" fill="#feefe9"/>
<rect x="18.40" y="470.80" width="23.19" height="23.10" fill="#fce2d8"/><rect x="40.89" y="470.80" width="23.19" height="23.10" fill="#fce7de"/><rect x="63.38" y="470.80" width="23.19" height="23.10" fill="#fbf9fe"/><rect x="85.88" y="470.80" width="23.19" height="23.10" fill="#b494f9"/><rect x="108.37" y="470.80" width="23.19" height="23.10" fill="#fb2a1c"/><rect x="130.86" y="470.80" width="23.19" height="23.10" fill="#fb3020"/><rect x="153.35" y="470.80" width="23.19" height="23.10" fill="#b595f9"/><rect x="175.84" y="470.80" width="23.19" height="23.10" fill="#fef8f6"/><rect x="198.33" y="470.80" width="23.19" height="23.10" fill="#fbccbf"/><rect x="220.83" y="470.80" width="23.19" height="23.10" fill="#fcdad0"/><rect x="243.32" y="470.80" width="23.19" height="23.10" fill="#fef4f0"/><rect x="265.81" y="470.80" width="22.49" height="23.10" fill="#fdeee8"/>
<rect x="18.40" y="493.20" width="23.19" height="23.10" fill="#f1ecfd"/><rect x="40.89" y="493.20" width="23.19" height="23.10" fill="#efe9fc"/><rect x="63.38" y="493.20" width="23.19" height="23.10" fill="#fbf9fe"/><rect x="85.88" y="493.20" width="23.19" height="23.10" fill="#fb2a1c"/><rect x="108.37" y="493.20" width="23.19" height="23.10" fill="#b494f9"/><rect x="130.86" y="493.20" width="23.19" height="23.10" fill="#b799fa"/><rect x="153.35" y="493.20" width="23.19" height="23.10" fill="#fb3222"/><rect x="175.84" y="493.20" width="23.19" height="23.10" fill="#fcddd3"/><rect x="198.33" y="493.20" width="23.19" height="23.10" fill="#ddcdfb"/><rect x="220.83" y="493.20" width="23.19" height="23.10" fill="#f3effd"/><rect x="243.32" y="493.20" width="23.19" height="23.10" fill="#f4f0fd"/><rect x="265.81" y="493.20" width="22.49" height="23.10" fill="#f0eafd"/>
<rect x="18.40" y="515.60" width="23.19" height="23.10" fill="#fef7f4"/><rect x="40.89" y="515.60" width="23.19" height="23.10" fill="#fdfcff"/><rect x="63.38" y="515.60" width="23.19" height="23.10" fill="#fb2a1c"/><rect x="85.88" y="515.60" width="23.19" height="23.10" fill="#fbf9fe"/><rect x="108.37" y="515.60" width="23.19" height="23.10" fill="#fbf9fe"/><rect x="130.86" y="515.60" width="23.19" height="23.10" fill="#fdfcff"/><rect x="153.35" y="515.60" width="23.19" height="23.10" fill="#fbf9fe"/><rect x="175.84" y="515.60" width="23.19" height="23.10" fill="#eae2fc"/><rect x="198.33" y="515.60" width="23.19" height="23.10" fill="#fce3da"/><rect x="220.83" y="515.60" width="23.19" height="23.10" fill="#fef8f6"/><rect x="243.32" y="515.60" width="23.19" height="23.10" fill="#fdeee8"/><rect x="265.81" y="515.60" width="22.49" height="23.10" fill="#fce4db"/>
<rect x="18.40" y="538.00" width="23.19" height="23.10" fill="#fbcdc0"/><rect x="40.89" y="538.00" width="23.19" height="23.10" fill="#fb2a1c"/><rect x="63.38" y="538.00" width="23.19" height="23.10" fill="#fdfcff"/><rect x="85.88" y="538.00" width="23.19" height="23.10" fill="#efe9fc"/><rect x="108.37" y="538.00" width="23.19" height="23.10" fill="#fce7de"/><rect x="130.86" y="538.00" width="23.19" height="23.10" fill="#fce7de"/><rect x="153.35" y="538.00" width="23.19" height="23.10" fill="#f2edfd"/><rect x="175.84" y="538.00" width="23.19" height="23.10" fill="#fce0d6"/><rect x="198.33" y="538.00" width="23.19" height="23.10" fill="#fcdcd2"/><rect x="220.83" y="538.00" width="23.19" height="23.10" fill="#fabfaf"/><rect x="243.32" y="538.00" width="23.19" height="23.10" fill="#fbcabd"/><rect x="265.81" y="538.00" width="22.49" height="23.10" fill="#f87e62"/>
<rect x="18.40" y="560.40" width="23.19" height="22.40" fill="#fb2a1c"/><rect x="40.89" y="560.40" width="23.19" height="22.40" fill="#fbcdc0"/><rect x="63.38" y="560.40" width="23.19" height="22.40" fill="#fef7f4"/><rect x="85.88" y="560.40" width="23.19" height="22.40" fill="#f1ecfd"/><rect x="108.37" y="560.40" width="23.19" height="22.40" fill="#fce2d8"/><rect x="130.86" y="560.40" width="23.19" height="22.40" fill="#fcded4"/><rect x="153.35" y="560.40" width="23.19" height="22.40" fill="#f0eafd"/><rect x="175.84" y="560.40" width="23.19" height="22.40" fill="#fffefd"/><rect x="198.33" y="560.40" width="23.19" height="22.40" fill="#f8a48d"/><rect x="220.83" y="560.40" width="23.19" height="22.40" fill="#f9b9a7"/><rect x="243.32" y="560.40" width="23.19" height="22.40" fill="#f9baa8"/><rect x="265.81" y="560.40" width="22.49" height="22.40" fill="#f8a28a"/>
<path d="M18.40 314.00V582.80M18.40 314.00H288.30M40.89 314.00V582.80M18.40 336.40H288.30M63.38 314.00V582.80M18.40 358.80H288.30M85.88 314.00V582.80M18.40 381.20H288.30M108.37 314.00V582.80M18.40 403.60H288.30M130.86 314.00V582.80M18.40 426.00H288.30M153.35 314.00V582.80M18.40 448.40H288.30M175.84 314.00V582.80M18.40 470.80H288.30M198.33 314.00V582.80M18.40 493.20H288.30M220.83 314.00V582.80M18.40 515.60H288.30M243.32 314.00V582.80M18.40 538.00H288.30M265.81 314.00V582.80M18.40 560.40H288.30M288.30 314.00V582.80M18.40 582.80H288.30" stroke="#b8b2b2" stroke-opacity="0.24" stroke-width="0.8" fill="none"/>
<text class="ax" x="13.0" y="328.2" text-anchor="end">X12</text><text class="ax" x="13.0" y="350.6" text-anchor="end">X11</text><text class="ax" x="13.0" y="373.0" text-anchor="end">X10</text><text class="ax" x="13.0" y="395.4" text-anchor="end">X9</text><text class="ax" x="13.0" y="417.8" text-anchor="end">X8</text><text class="ax" x="13.0" y="440.2" text-anchor="end">X7</text><text class="ax" x="13.0" y="462.6" text-anchor="end">X6</text><text class="ax" x="13.0" y="485.0" text-anchor="end">X5</text><text class="ax" x="13.0" y="507.4" text-anchor="end">X4</text><text class="ax" x="13.0" y="529.8" text-anchor="end">X3</text><text class="ax" x="13.0" y="552.2" text-anchor="end">X2</text><text class="ax" x="13.0" y="574.6" text-anchor="end">X1</text>
<text class="ax" text-anchor="end" transform="translate(29.4 588.6) rotate(-45)" x="0" y="4.5">X1</text><text class="ax" text-anchor="end" transform="translate(51.9 588.6) rotate(-45)" x="0" y="4.5">X2</text><text class="ax" text-anchor="end" transform="translate(74.4 588.6) rotate(-45)" x="0" y="4.5">X3</text><text class="ax" text-anchor="end" transform="translate(96.9 588.6) rotate(-45)" x="0" y="4.5">X4</text><text class="ax" text-anchor="end" transform="translate(119.4 588.6) rotate(-45)" x="0" y="4.5">X5</text><text class="ax" text-anchor="end" transform="translate(141.9 588.6) rotate(-45)" x="0" y="4.5">X6</text><text class="ax" text-anchor="end" transform="translate(164.4 588.6) rotate(-45)" x="0" y="4.5">X7</text><text class="ax" text-anchor="end" transform="translate(186.9 588.6) rotate(-45)" x="0" y="4.5">X8</text><text class="ax" text-anchor="end" transform="translate(209.4 588.6) rotate(-45)" x="0" y="4.5">X9</text><text class="ax" text-anchor="end" transform="translate(231.9 588.6) rotate(-45)" x="0" y="4.5">X10</text><text class="ax" text-anchor="end" transform="translate(254.4 588.6) rotate(-45)" x="0" y="4.5">X11</text><text class="ax" text-anchor="end" transform="translate(276.9 588.6) rotate(-45)" x="0" y="4.5">X12</text>
<g clip-path="url(#cl2)"><rect x="299.3" y="428.5" width="10.0" height="48.0" fill="url(#lg)"/><text class="lh" x="299.4" y="425.3">Corr</text><text class="lt" x="312.1" y="430.7">1.0</text><text class="lt" x="312.1" y="442.7">0.5</text><text class="lt" x="312.1" y="454.7">0.0</text><text class="lt" x="312.1" y="466.7">-0.5</text><text class="lt" x="312.1" y="478.7">-1.0</text></g>
<text class="cap" x="52.8" y="618.8" textLength="217.1" lengthAdjust="spacingAndGlyphs">(c) Correlation plot of 2020 variables</text>
</g>
<g>
<rect x="379.80" y="311.70" width="23.20" height="23.20" fill="#f8a189"/><rect x="402.30" y="311.70" width="23.20" height="23.20" fill="#f8a48d"/><rect x="424.80" y="311.70" width="23.20" height="23.20" fill="#fce2d9"/><rect x="447.30" y="311.70" width="23.20" height="23.20" fill="#f3effd"/><rect x="469.80" y="311.70" width="23.20" height="23.20" fill="#fef0eb"/><rect x="492.30" y="311.70" width="23.20" height="23.20" fill="#fdede6"/><rect x="514.80" y="311.70" width="23.20" height="23.20" fill="#f4f0fd"/><rect x="537.30" y="311.70" width="23.20" height="23.20" fill="#fbd5c9"/><rect x="559.80" y="311.70" width="23.20" height="23.20" fill="#f8a690"/><rect x="582.30" y="311.70" width="23.20" height="23.20" fill="#f8a690"/><rect x="604.80" y="311.70" width="23.20" height="23.20" fill="#fb2a1c"/><rect x="627.30" y="311.70" width="22.50" height="23.20" fill="#fb2a1c"/>
<rect x="379.80" y="334.20" width="23.20" height="23.20" fill="#f8a189"/><rect x="402.30" y="334.20" width="23.20" height="23.20" fill="#f8a48d"/><rect x="424.80" y="334.20" width="23.20" height="23.20" fill="#fce3da"/><rect x="447.30" y="334.20" width="23.20" height="23.20" fill="#f4f0fd"/><rect x="469.80" y="334.20" width="23.20" height="23.20" fill="#fef1ec"/><rect x="492.30" y="334.20" width="23.20" height="23.20" fill="#fdeee8"/><rect x="514.80" y="334.20" width="23.20" height="23.20" fill="#f4f0fd"/><rect x="537.30" y="334.20" width="23.20" height="23.20" fill="#fbd7cb"/><rect x="559.80" y="334.20" width="23.20" height="23.20" fill="#f8a690"/><rect x="582.30" y="334.20" width="23.20" height="23.20" fill="#f8a690"/><rect x="604.80" y="334.20" width="23.20" height="23.20" fill="#fb2a1c"/><rect x="627.30" y="334.20" width="22.50" height="23.20" fill="#fb2a1c"/>
<rect x="379.80" y="356.70" width="23.20" height="23.20" fill="#f89279"/><rect x="402.30" y="356.70" width="23.20" height="23.20" fill="#f8af9a"/><rect x="424.80" y="356.70" width="23.20" height="23.20" fill="#fef1ec"/><rect x="447.30" y="356.70" width="23.20" height="23.20" fill="#ebe3fc"/><rect x="469.80" y="356.70" width="23.20" height="23.20" fill="#fbccbf"/><rect x="492.30" y="356.70" width="23.20" height="23.20" fill="#fac8ba"/><rect x="514.80" y="356.70" width="23.20" height="23.20" fill="#eae2fc"/><rect x="537.30" y="356.70" width="23.20" height="23.20" fill="#fac7b8"/><rect x="559.80" y="356.70" width="23.20" height="23.20" fill="#fa5e44"/><rect x="582.30" y="356.70" width="23.20" height="23.20" fill="#fb2a1c"/><rect x="604.80" y="356.70" width="23.20" height="23.20" fill="#f8a690"/><rect x="627.30" y="356.70" width="22.50" height="23.20" fill="#f8a690"/>
<rect x="379.80" y="379.20" width="23.20" height="23.20" fill="#f89e86"/><rect x="402.30" y="379.20" width="23.20" height="23.20" fill="#fbcbbe"/><rect x="424.80" y="379.20" width="23.20" height="23.20" fill="#fce1d7"/><rect x="447.30" y="379.20" width="23.20" height="23.20" fill="#f8f6fe"/><rect x="469.80" y="379.20" width="23.20" height="23.20" fill="#fce1d7"/><rect x="492.30" y="379.20" width="23.20" height="23.20" fill="#fcded4"/><rect x="514.80" y="379.20" width="23.20" height="23.20" fill="#fbf9fe"/><rect x="537.30" y="379.20" width="23.20" height="23.20" fill="#fac7b8"/><rect x="559.80" y="379.20" width="23.20" height="23.20" fill="#fb2a1c"/><rect x="582.30" y="379.20" width="23.20" height="23.20" fill="#fa5e44"/><rect x="604.80" y="379.20" width="23.20" height="23.20" fill="#f8a690"/><rect x="627.30" y="379.20" width="22.50" height="23.20" fill="#f8a690"/>
<rect x="379.80" y="401.70" width="23.20" height="23.20" fill="#fbcdc0"/><rect x="402.30" y="401.70" width="23.20" height="23.20" fill="#fbcabd"/><rect x="424.80" y="401.70" width="23.20" height="23.20" fill="#fef5f2"/><rect x="447.30" y="401.70" width="23.20" height="23.20" fill="#f2edfd"/><rect x="469.80" y="401.70" width="23.20" height="23.20" fill="#fbd5c9"/><rect x="492.30" y="401.70" width="23.20" height="23.20" fill="#fbd3c6"/><rect x="514.80" y="401.70" width="23.20" height="23.20" fill="#fbf9fe"/><rect x="537.30" y="401.70" width="23.20" height="23.20" fill="#fb2a1c"/><rect x="559.80" y="401.70" width="23.20" height="23.20" fill="#fac7b8"/><rect x="582.30" y="401.70" width="23.20" height="23.20" fill="#fac7b8"/><rect x="604.80" y="401.70" width="23.20" height="23.20" fill="#fbd7cb"/><rect x="627.30" y="401.70" width="22.50" height="23.20" fill="#fbd5c9"/>
<rect x="379.80" y="424.20" width="23.20" height="23.20" fill="#f8f6fe"/><rect x="402.30" y="424.20" width="23.20" height="23.20" fill="#e6dcfc"/><rect x="424.80" y="424.20" width="23.20" height="23.20" fill="#fdfcff"/><rect x="447.30" y="424.20" width="23.20" height="23.20" fill="#fb3b28"/><rect x="469.80" y="424.20" width="23.20" height="23.20" fill="#e1d3fb"/><rect x="492.30" y="424.20" width="23.20" height="23.20" fill="#e1d4fb"/><rect x="514.80" y="424.20" width="23.20" height="23.20" fill="#fb2a1c"/><rect x="537.30" y="424.20" width="23.20" height="23.20" fill="#fbf9fe"/><rect x="559.80" y="424.20" width="23.20" height="23.20" fill="#fbf9fe"/><rect x="582.30" y="424.20" width="23.20" height="23.20" fill="#eae2fc"/><rect x="604.80" y="424.20" width="23.20" height="23.20" fill="#f4f0fd"/><rect x="627.30" y="424.20" width="22.50" height="23.20" fill="#f4f0fd"/>
<rect x="379.80" y="446.70" width="23.20" height="23.20" fill="#fce0d6"/><rect x="402.30" y="446.70" width="23.20" height="23.20" fill="#fbd5c9"/><rect x="424.80" y="446.70" width="23.20" height="23.20" fill="#ffffff"/><rect x="447.30" y="446.70" width="23.20" height="23.20" fill="#e2d6fb"/><rect x="469.80" y="446.70" width="23.20" height="23.20" fill="#fb3222"/><rect x="492.30" y="446.70" width="23.20" height="23.20" fill="#fb2a1c"/><rect x="514.80" y="446.70" width="23.20" height="23.20" fill="#e1d4fb"/><rect x="537.30" y="446.70" width="23.20" height="23.20" fill="#fbd3c6"/><rect x="559.80" y="446.70" width="23.20" height="23.20" fill="#fcded4"/><rect x="582.30" y="446.70" width="23.20" height="23.20" fill="#fac8ba"/><rect x="604.80" y="446.70" width="23.20" height="23.20" fill="#fdeee8"/><rect x="627.30" y="446.70" width="22.50" height="23.20" fill="#fdede6"/>
<rect x="379.80" y="469.20" width="23.20" height="23.20" fill="#fce3da"/><rect x="402.30" y="469.20" width="23.20" height="23.20" fill="#fbd3c7"/><rect x="424.80" y="469.20" width="23.20" height="23.20" fill="#fdfcff"/><rect x="447.30" y="469.20" width="23.20" height="23.20" fill="#e1d3fb"/><rect x="469.80" y="469.20" width="23.20" height="23.20" fill="#fb2a1c"/><rect x="492.30" y="469.20" width="23.20" height="23.20" fill="#fb3222"/><rect x="514.80" y="469.20" width="23.20" height="23.20" fill="#e1d3fb"/><rect x="537.30" y="469.20" width="23.20" height="23.20" fill="#fbd5c9"/><rect x="559.80" y="469.20" width="23.20" height="23.20" fill="#fce1d7"/><rect x="582.30" y="469.20" width="23.20" height="23.20" fill="#fbccbf"/><rect x="604.80" y="469.20" width="23.20" height="23.20" fill="#fef1ec"/><rect x="627.30" y="469.20" width="22.50" height="23.20" fill="#fef0eb"/>
<rect x="379.80" y="491.70" width="23.20" height="23.20" fill="#f6f3fd"/><rect x="402.30" y="491.70" width="23.20" height="23.20" fill="#ebe3fc"/><rect x="424.80" y="491.70" width="23.20" height="23.20" fill="#fcfafe"/><rect x="447.30" y="491.70" width="23.20" height="23.20" fill="#fb2a1c"/><rect x="469.80" y="491.70" width="23.20" height="23.20" fill="#e1d3fb"/><rect x="492.30" y="491.70" width="23.20" height="23.20" fill="#e2d6fb"/><rect x="514.80" y="491.70" width="23.20" height="23.20" fill="#fb3b28"/><rect x="537.30" y="491.70" width="23.20" height="23.20" fill="#f2edfd"/><rect x="559.80" y="491.70" width="23.20" height="23.20" fill="#f8f6fe"/><rect x="582.30" y="491.70" width="23.20" height="23.20" fill="#ebe3fc"/><rect x="604.80" y="491.70" width="23.20" height="23.20" fill="#f4f0fd"/><rect x="627.30" y="491.70" width="22.50" height="23.20" fill="#f3effd"/>
<rect x="379.80" y="514.20" width="23.20" height="23.20" fill="#fef4f0"/><rect x="402.30" y="514.20" width="23.20" height="23.20" fill="#ffffff"/><rect x="424.80" y="514.20" width="23.20" height="23.20" fill="#fb2a1c"/><rect x="447.30" y="514.20" width="23.20" height="23.20" fill="#fcfafe"/><rect x="469.80" y="514.20" width="23.20" height="23.20" fill="#fdfcff"/><rect x="492.30" y="514.20" width="23.20" height="23.20" fill="#ffffff"/><rect x="514.80" y="514.20" width="23.20" height="23.20" fill="#fdfcff"/><rect x="537.30" y="514.20" width="23.20" height="23.20" fill="#fef5f2"/><rect x="559.80" y="514.20" width="23.20" height="23.20" fill="#fce1d7"/><rect x="582.30" y="514.20" width="23.20" height="23.20" fill="#fef1ec"/><rect x="604.80" y="514.20" width="23.20" height="23.20" fill="#fce3da"/><rect x="627.30" y="514.20" width="22.50" height="23.20" fill="#fce2d9"/>
<rect x="379.80" y="536.70" width="23.20" height="23.20" fill="#f8957c"/><rect x="402.30" y="536.70" width="23.20" height="23.20" fill="#fb2a1c"/><rect x="424.80" y="536.70" width="23.20" height="23.20" fill="#ffffff"/><rect x="447.30" y="536.70" width="23.20" height="23.20" fill="#ebe3fc"/><rect x="469.80" y="536.70" width="23.20" height="23.20" fill="#fbd3c7"/><rect x="492.30" y="536.70" width="23.20" height="23.20" fill="#fbd5c9"/><rect x="514.80" y="536.70" width="23.20" height="23.20" fill="#e6dcfc"/><rect x="537.30" y="536.70" width="23.20" height="23.20" fill="#fbcabd"/><rect x="559.80" y="536.70" width="23.20" height="23.20" fill="#fbcbbe"/><rect x="582.30" y="536.70" width="23.20" height="23.20" fill="#f8af9a"/><rect x="604.80" y="536.70" width="23.20" height="23.20" fill="#f8a48d"/><rect x="627.30" y="536.70" width="22.50" height="23.20" fill="#f8a48d"/>
<rect x="379.80" y="559.20" width="23.20" height="22.50" fill="#fb2a1c"/><rect x="402.30" y="559.20" width="23.20" height="22.50" fill="#f8957c"/><rect x="424.80" y="559.20" width="23.20" height="22.50" fill="#fef4f0"/><rect x="447.30" y="559.20" width="23.20" height="22.50" fill="#f6f3fd"/><rect x="469.80" y="559.20" width="23.20" height="22.50" fill="#fce3da"/><rect x="492.30" y="559.20" width="23.20" height="22.50" fill="#fce0d6"/><rect x="514.80" y="559.20" width="23.20" height="22.50" fill="#f8f6fe"/><rect x="537.30" y="559.20" width="23.20" height="22.50" fill="#fbcdc0"/><rect x="559.80" y="559.20" width="23.20" height="22.50" fill="#f89e86"/><rect x="582.30" y="559.20" width="23.20" height="22.50" fill="#f89279"/><rect x="604.80" y="559.20" width="23.20" height="22.50" fill="#f8a189"/><rect x="627.30" y="559.20" width="22.50" height="22.50" fill="#f8a189"/>
<path d="M379.80 311.70V581.70M379.80 311.70H649.80M402.30 311.70V581.70M379.80 334.20H649.80M424.80 311.70V581.70M379.80 356.70H649.80M447.30 311.70V581.70M379.80 379.20H649.80M469.80 311.70V581.70M379.80 401.70H649.80M492.30 311.70V581.70M379.80 424.20H649.80M514.80 311.70V581.70M379.80 446.70H649.80M537.30 311.70V581.70M379.80 469.20H649.80M559.80 311.70V581.70M379.80 491.70H649.80M582.30 311.70V581.70M379.80 514.20H649.80M604.80 311.70V581.70M379.80 536.70H649.80M627.30 311.70V581.70M379.80 559.20H649.80M649.80 311.70V581.70M379.80 581.70H649.80" stroke="#b8b2b2" stroke-opacity="0.24" stroke-width="0.8" fill="none"/>
<text class="ax" x="374.5" y="326.2" text-anchor="end">X12</text><text class="ax" x="374.5" y="348.7" text-anchor="end">X11</text><text class="ax" x="374.5" y="371.2" text-anchor="end">X10</text><text class="ax" x="374.5" y="393.7" text-anchor="end">X9</text><text class="ax" x="374.5" y="416.2" text-anchor="end">X8</text><text class="ax" x="374.5" y="438.7" text-anchor="end">X7</text><text class="ax" x="374.5" y="461.2" text-anchor="end">X6</text><text class="ax" x="374.5" y="483.7" text-anchor="end">X5</text><text class="ax" x="374.5" y="506.2" text-anchor="end">X4</text><text class="ax" x="374.5" y="528.7" text-anchor="end">X3</text><text class="ax" x="374.5" y="551.2" text-anchor="end">X2</text><text class="ax" x="374.5" y="573.7" text-anchor="end">X1</text>
<text class="ax" text-anchor="end" transform="translate(390.9 587.9) rotate(-45)" x="0" y="4.5">X1</text><text class="ax" text-anchor="end" transform="translate(413.4 587.9) rotate(-45)" x="0" y="4.5">X2</text><text class="ax" text-anchor="end" transform="translate(435.9 587.9) rotate(-45)" x="0" y="4.5">X3</text><text class="ax" text-anchor="end" transform="translate(458.4 587.9) rotate(-45)" x="0" y="4.5">X4</text><text class="ax" text-anchor="end" transform="translate(480.9 587.9) rotate(-45)" x="0" y="4.5">X5</text><text class="ax" text-anchor="end" transform="translate(503.4 587.9) rotate(-45)" x="0" y="4.5">X6</text><text class="ax" text-anchor="end" transform="translate(525.8 587.9) rotate(-45)" x="0" y="4.5">X7</text><text class="ax" text-anchor="end" transform="translate(548.3 587.9) rotate(-45)" x="0" y="4.5">X8</text><text class="ax" text-anchor="end" transform="translate(570.8 587.9) rotate(-45)" x="0" y="4.5">X9</text><text class="ax" text-anchor="end" transform="translate(593.3 587.9) rotate(-45)" x="0" y="4.5">X10</text><text class="ax" text-anchor="end" transform="translate(615.8 587.9) rotate(-45)" x="0" y="4.5">X11</text><text class="ax" text-anchor="end" transform="translate(638.3 587.9) rotate(-45)" x="0" y="4.5">X12</text>
<g clip-path="url(#cl3)"><rect x="661.0" y="427.2" width="9.9" height="47.7" fill="url(#lg)"/><text class="lh" x="661.1" y="424.1">Corr</text><text class="lt" x="673.8" y="429.4">1.0</text><text class="lt" x="673.8" y="441.3">0.5</text><text class="lt" x="673.8" y="453.2">0.0</text><text class="lt" x="673.8" y="465.2">-0.5</text><text class="lt" x="673.8" y="477.1">-1.0</text></g>
<text class="cap" x="414.6" y="618.8" textLength="218.2" lengthAdjust="spacingAndGlyphs">(d) Correlation plot of 2021 variables</text>
</g>
<g><path d="M573 312.2 C574 311.2 576 311.6 577 311.4 C578.6 311 580.4 311.3 581 312.6 C581.4 314 580.6 315.4 579.6 316 C579.2 317 578.6 318.2 577.8 318.8 C577.4 318 577.2 317.2 576.6 317 C576.2 317.8 575.4 318.8 574.6 319 C574.6 318 574.8 317 574.2 316.4 C573 315.8 572.4 313.6 573 312.2Z" fill="#cf3a20" fill-opacity="0.85"/><ellipse cx="577.2" cy="313.6" rx="2.6" ry="1.9" fill="#c2301a" fill-opacity="0.8"/><ellipse cx="616.2" cy="315.6" rx="4.6" ry="4.2" fill="#d92a16" fill-opacity="0.55"/><ellipse cx="616.6" cy="318.6" rx="3.0" ry="2.6" fill="#dc2c18" fill-opacity="0.4"/></g>
</svg>
</body></html>
